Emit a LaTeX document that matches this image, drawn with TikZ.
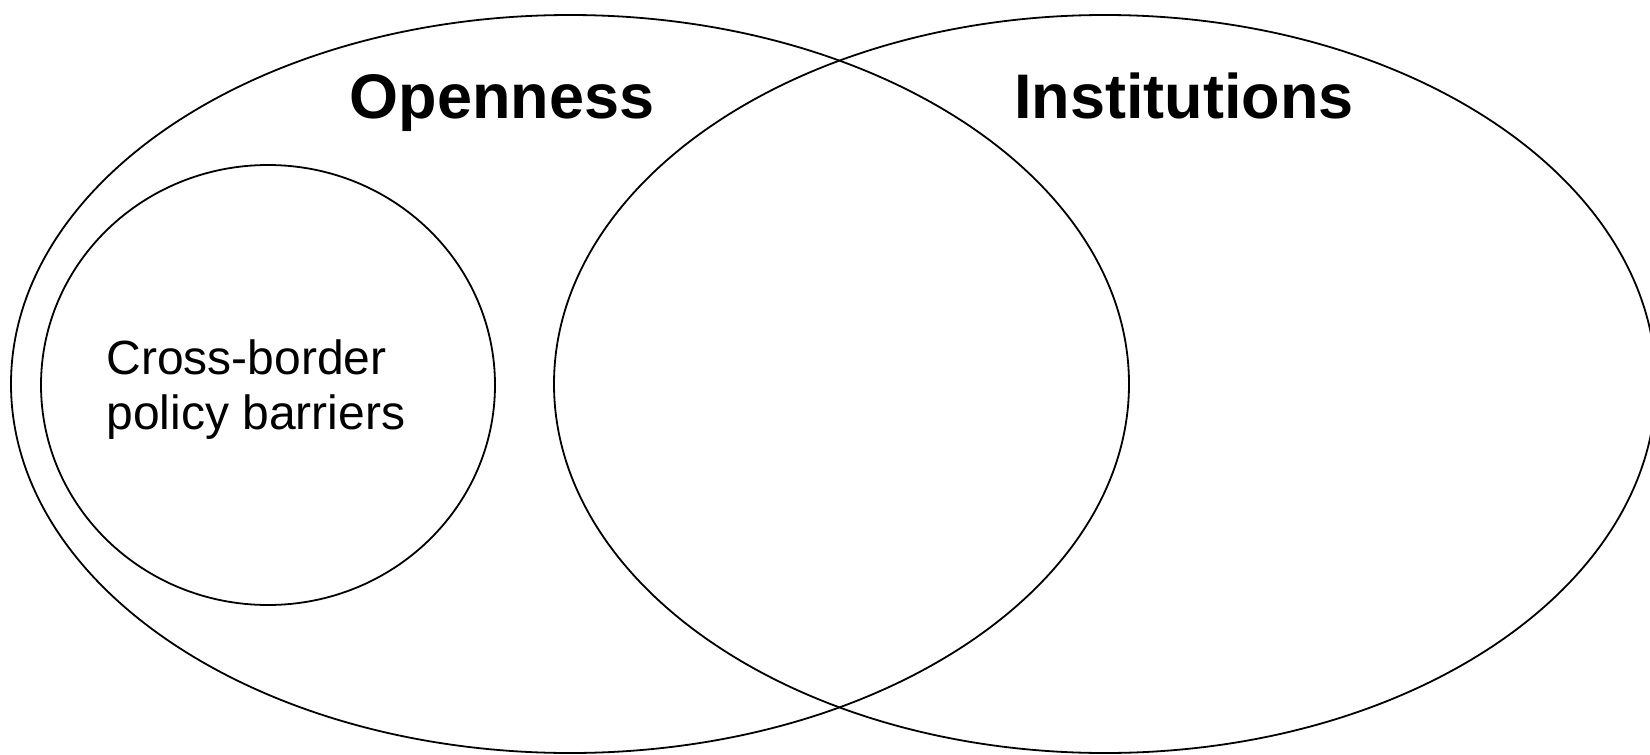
\documentclass[tikz,border=0pt]{standalone}
\usepackage{fontspec}
\setmainfont{Liberation Sans}
\usetikzlibrary{shapes.geometric}
\begin{document}
\begin{tikzpicture}[x=0.5pt,y=-0.5pt,
  setbox/.style={draw=black, line width=0.9pt, ellipse, inner sep=0pt, outer sep=0pt},
  titletext/.style={font=\fontsize{31.5}{36}\selectfont\bfseries, inner sep=0pt, anchor=base},
  bodytext/.style={font=\fontsize{24}{27.5}\selectfont, inner sep=0pt, align=left, anchor=west}]
\useasboundingbox[fill=white] (0,0) rectangle (1650,755);
\node[setbox, minimum width=559pt, minimum height=369pt] (open) at (570,384) {};
\node[setbox, minimum width=551pt, minimum height=369pt] (inst) at (1105,384) {};
\node[setbox, minimum width=227pt, minimum height=220pt] (cross) at (268,385) {};
\node[titletext] (opent) at (502,118) {Openness};
\node[titletext] (instt) at (1184,118) {Institutions};
\node[bodytext] (crosst) at (106,390) {Cross-border\\policy barriers};
\end{tikzpicture}
\end{document}
